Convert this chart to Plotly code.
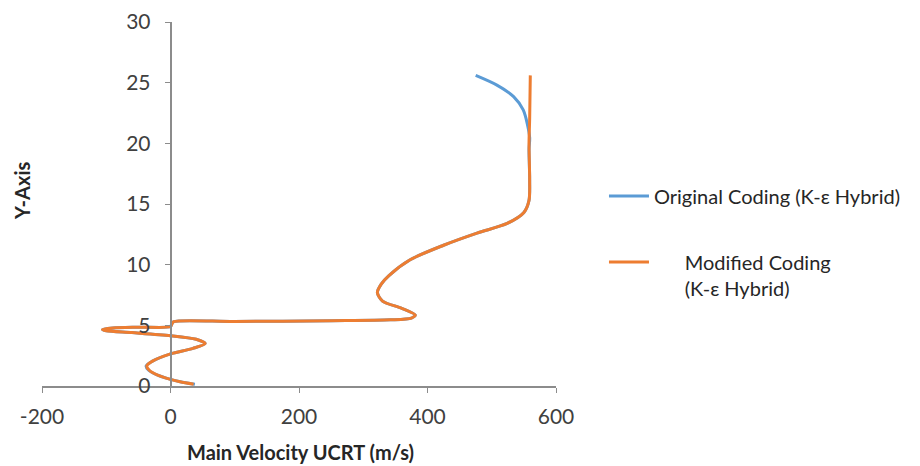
import plotly.graph_objects as go

# Modified coding (orange) path, bottom to top
mod_x = [36, 15, 0, -20, -33, -37, -28, 0, 35, 54, 40, 0, -60, -100, -106, -90, -50, 0, 2, 5,
         100, 250, 342, 375, 381, 360, 330, 322, 328, 340, 373, 425, 477, 524, 550, 558, 559, 558, 559, 560]
mod_y = [0.15, 0.35, 0.55, 0.9, 1.3, 1.65, 2.05, 2.65, 3.1, 3.5, 3.85, 4.15, 4.4, 4.55, 4.65, 4.78, 4.85, 4.9, 5.1, 5.3,
         5.32, 5.38, 5.45, 5.6, 5.85, 6.4, 7.0, 7.7, 8.4, 9.1, 10.4, 11.6, 12.6, 13.4, 14.3, 15.3, 17, 20, 22, 25.6]

# Original coding (blue) path, bottom to top
orig_x = [38, 15, 0, -20, -34, -38, -28, 0, 35, 54, 40, 0, -60, -100, -106, -90, -50, 0, 2, 5,
          100, 250, 342, 375, 381, 360, 330, 322, 328, 340, 373, 425, 477, 524, 550, 558, 559, 558, 559, 549, 534, 508, 475]
orig_y = [0.15, 0.35, 0.55, 0.9, 1.3, 1.65, 2.05, 2.65, 3.1, 3.5, 3.85, 4.15, 4.4, 4.55, 4.65, 4.78, 4.85, 4.9, 5.1, 5.3,
          5.32, 5.38, 5.45, 5.6, 5.85, 6.4, 7.0, 7.7, 8.4, 9.1, 10.4, 11.6, 12.6, 13.4, 14.3, 15.3, 17, 19.5, 20.5, 22.75, 23.85, 24.8, 25.6]

x_ticks = [-200, 0, 200, 400, 600]
x_tick_labels = ["-200", "0", "200", "400", "600"]
y_ticks = [0, 5, 10, 15, 20, 25, 30]

FONT = "Lato"
AX = "#8c8c8c"

fig = go.Figure()
fig.add_trace(go.Scatter(x=orig_x, y=orig_y, mode="lines", name="Original Coding (K-ε Hybrid)",
                         line=dict(color="#5B9BD5", width=3, shape="spline", smoothing=0.8),
                         legendgroup="a"))
fig.add_trace(go.Scatter(x=mod_x, y=mod_y, mode="lines",
                         name="\u00a0" * 6 + "Modified Coding<br>" + "\u00a0" * 6 + "(K-ε Hybrid)",
                         line=dict(color="#ED7D31", width=3, shape="spline", smoothing=0.8),
                         legendgroup="b"))

fig.update_layout(
    width=920, height=466,
    margin=dict(l=42, r=364, t=22, b=80),
    paper_bgcolor="white", plot_bgcolor="white",
    font=dict(family=FONT, size=21, color="#404040"),
    showlegend=True,
    legend=dict(xref="container", yref="container", x=0.6565, y=0.621,
                xanchor="left", yanchor="top",
                valign="top", tracegroupgap=37, itemwidth=40,
                font=dict(family=FONT, size=20, color="#262626"),
                bgcolor="rgba(0,0,0,0)"),
    xaxis=dict(range=[-200, 600], tickvals=x_ticks, ticktext=x_tick_labels,
               showgrid=False, zeroline=False, automargin=False,
               showline=True, linecolor=AX, linewidth=1.5, ticks="outside", ticklen=5,
               tickcolor=AX, ticklabelstandoff=6,
               tickfont=dict(family=FONT, size=21, color="#404040")),
    yaxis=dict(range=[0, 30], tickvals=y_ticks, showgrid=False, zeroline=False, automargin=False,
               showline=True, linecolor=AX, linewidth=1.5, ticks="outside", ticklen=5,
               tickcolor=AX, anchor="free", position=0.25, ticklabelstandoff=10,
               tickfont=dict(family=FONT, size=21, color="#404040")),
    annotations=[
        dict(text="<b>Main Velocity UCRT (m/s)</b>", x=0.502, y=-0.181, xref="paper", yref="paper",
             showarrow=False, xanchor="center", yanchor="middle",
             font=dict(family=FONT, size=20, color="#262626")),
        dict(text="<b>Y-Axis</b>", x=-0.039, y=0.538, xref="paper", yref="paper",
             showarrow=False, textangle=-90, xanchor="center", yanchor="middle",
             font=dict(family=FONT, size=20, color="#262626")),
    ],
)

fig.write_html("out.html")
